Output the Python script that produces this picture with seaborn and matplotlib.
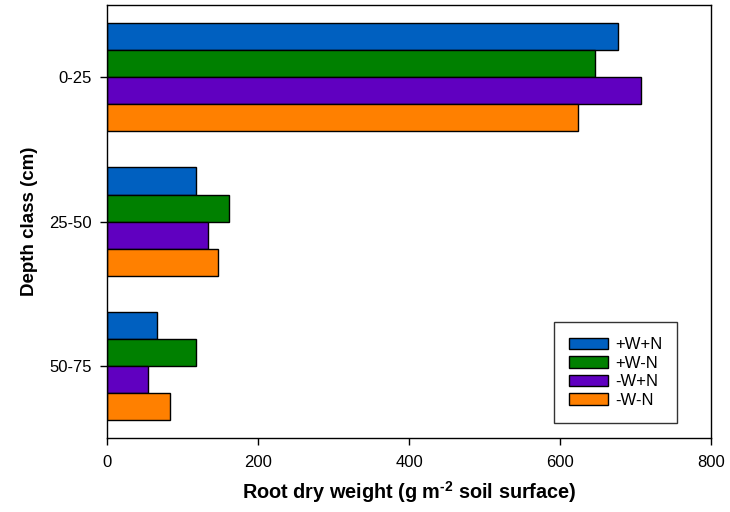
import matplotlib
matplotlib.use("Agg")
import matplotlib.pyplot as plt
import pandas as pd
import seaborn as sns

# values (g m-2)
depth_classes = ["0-25", "25-50", "50-75"]
treatments = ["+W+N", "+W-N", "-W+N", "-W-N"]
wn_plus_plus = [677, 118, 66]
wn_plus_minus = [646, 162, 118]
wn_minus_plus = [707, 134, 54]
wn_minus_minus = [624, 147, 83]
colors = ["#0060C0", "#008000", "#6000C0", "#FF8000"]

series = [wn_plus_plus, wn_plus_minus, wn_minus_plus, wn_minus_minus]
rows = []
for treatment, values in zip(treatments, series):
    for depth, v in zip(depth_classes, values):
        rows.append({"depth": depth, "treatment": treatment, "weight": v})
df = pd.DataFrame(rows)

sns.set_style("ticks")
plt.rcParams["font.family"] = ["Liberation Sans", "DejaVu Sans"]
plt.rcParams["mathtext.fontset"] = "custom"
plt.rcParams["mathtext.rm"] = "Liberation Sans"
plt.rcParams["mathtext.bf"] = "Liberation Sans:bold"
for key in ["text.color", "axes.labelcolor", "xtick.color", "ytick.color", "axes.edgecolor"]:
    plt.rcParams[key] = "black"

fig = plt.figure(figsize=(7.3, 5.12), dpi=100)
ax = fig.add_axes([0.1466, 0.1445, 0.8274, 0.8455])

sns.barplot(
    data=df,
    x="weight",
    y="depth",
    hue="treatment",
    order=depth_classes,
    hue_order=treatments,
    palette=colors,
    orient="h",
    width=0.75,
    edgecolor="black",
    linewidth=1.0,
    saturation=1,
    ax=ax,
)

ax.set_xlim(0, 800)
ax.set_ylim(2.5, -0.5)
ax.set_xticks([0, 200, 400, 600, 800])
ax.tick_params(axis="both", labelsize=12, direction="out", length=5, width=1, color="black")
ax.tick_params(axis="x", pad=7)
ax.tick_params(axis="y", pad=6)
for side in ["top", "right", "left", "bottom"]:
    ax.spines[side].set_visible(True)
    ax.spines[side].set_color("black")
    ax.spines[side].set_linewidth(1.0)

ax.set_xlabel("Root dry weight (g m$^{\\mathbf{\u2010}\\mathbf{2}}$ soil surface)",
              fontsize=14.3, fontweight="bold", labelpad=7)
ax.set_ylabel("Depth class (cm)", fontsize=13.5, fontweight="bold", labelpad=8)

leg = ax.legend(
    loc="lower right",
    bbox_to_anchor=(0.944, 0.035),
    fontsize=12,
    frameon=True,
    fancybox=False,
    edgecolor="black",
    handlelength=2.34,
    handleheight=0.72,
    handletextpad=0.4,
    labelspacing=0.21,
    borderpad=0.9,
    borderaxespad=0,
)
leg.get_frame().set_linewidth(1.0)

fig.savefig("out.png", dpi=100)
